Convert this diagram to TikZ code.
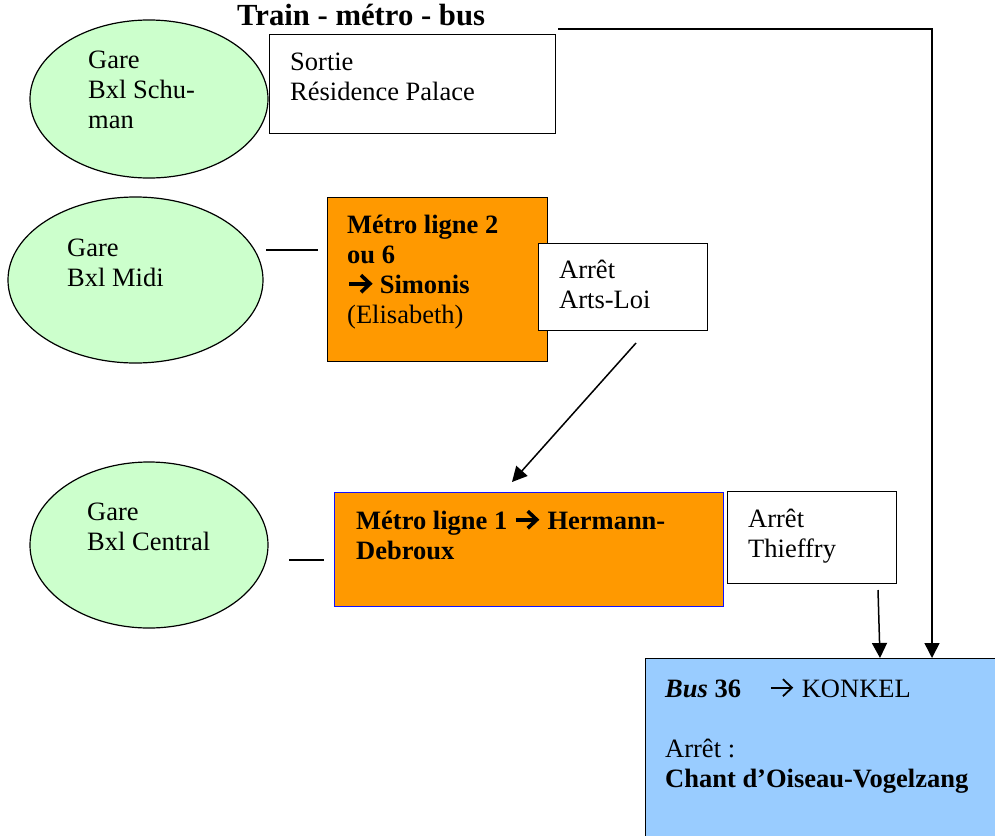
\documentclass[tikz,border=0pt]{standalone}
\usepackage{fontspec}
\setmainfont{Liberation Serif}
\usetikzlibrary{shapes.geometric,arrows.meta}
\definecolor{gareGreen}{HTML}{CCFFCC}
\definecolor{metroOrange}{HTML}{FF9900}
\definecolor{busBlue}{HTML}{99CCFF}
\definecolor{borderBlue}{HTML}{1010FF}
% chevron arrow glyph drawn inline; #1 = stroke width
\newcommand{\chevarrow}[1]{\tikz[x=1pt,y=1pt,baseline=0pt]{\draw[line width=#1, line cap=butt] (0,9.5) -- (20,9.5);\draw[line width=#1, line join=miter, line cap=butt] (12,18) -- (21,9.5) -- (12,1);}}
\begin{document}
\begin{tikzpicture}[x=1pt,y=-1pt,
  gare/.style={ellipse, draw=black, line width=1.2pt, fill=gareGreen, inner sep=0pt},
  plainbox/.style={rectangle, draw=black, line width=1.2pt, fill=white, anchor=north west, inner sep=0pt},
  metrobox/.style={rectangle, draw=black, line width=1.2pt, fill=metroOrange, anchor=north west, inner sep=0pt},
  txt/.style={anchor=north west, inner sep=0pt, align=left, font=\fontsize{26.5}{30}\selectfont},
  conn/.style={line width=1.5pt, draw=black},
  arr/.style={conn, -{Triangle[length=15pt,width=15pt]}}
]
\useasboundingbox (0,0) rectangle (995,835);

% title
\node[anchor=base west, inner sep=0pt, font=\fontsize{30.7}{34}\selectfont\bfseries] (title) at (237,25) {Train - métro - bus};

% row 1
\node[gare, minimum width=238pt, minimum height=158pt] (schuman) at (149,99) {};
\node[txt] (schumantxt) at (88,47) {\strut Gare\\Bxl Schu-\\man};
\node[plainbox, minimum width=286pt, minimum height=99pt] (sortie) at (269,34) {};
\node[txt] (sortietxt) at (290,49) {\strut Sortie\\Résidence Palace};

% row 2
\node[gare, minimum width=255pt, minimum height=166pt] (midi) at (135.5,280) {};
\node[txt] (miditxt) at (67,235) {\strut Gare\\Bxl Midi};
\node[metrobox, minimum width=220pt, minimum height=164pt] (metro2) at (327,197) {};
\node[txt] (metro2txt) at (347,212) {\strut\textbf{Métro ligne 2}\\\textbf{ou 6}\\\chevarrow{3.6pt}\hspace{8pt}\textbf{Simonis}\\(Elisabeth)};
\node[plainbox, minimum width=169pt, minimum height=87pt] (artsloi) at (538,243) {};
\node[txt] (artsloitxt) at (559,257) {\strut Arrêt\\Arts-Loi};

% row 3
\node[gare, minimum width=238pt, minimum height=166pt] (central) at (149,545) {};
\node[txt] (centraltxt) at (87,499) {\strut Gare\\Bxl Central};
\node[metrobox, draw=borderBlue, minimum width=389pt, minimum height=114pt] (metro1) at (334,492) {};
\node[txt] (metro1txt) at (356,508) {\strut\textbf{Métro ligne 1} \chevarrow{3.6pt}\hspace{9pt}\textbf{Hermann-}\\\textbf{Debroux}};
\node[plainbox, minimum width=169pt, minimum height=92pt] (thieffry) at (727,491) {};
\node[txt] (thieffrytxt) at (748,506) {\strut Arrêt\\Thieffry};

% bus
\node[rectangle, draw=black, line width=1.2pt, fill=busBlue, anchor=north west, inner sep=0pt, minimum width=360pt, minimum height=190pt] (bus) at (645,658) {};
\node[txt] (bustxt) at (665,676) {\strut\textbf{\textit{Bus} 36}\hspace{29pt}\chevarrow{1.8pt}\hspace{9pt}KONKEL\\[30pt]Arrêt :\\\textbf{Chant d’Oiseau-Vogelzang}};

% connectors
\coordinate (sortieout) at (558,29);
\coordinate (busin1) at (932,658);
\draw[arr] (sortieout) -| (busin1);

\coordinate (midiA) at (266,250);
\coordinate (midiB) at (318,250);
\draw[conn] (midiA) -- (midiB);

\coordinate (centralA) at (289,560);
\coordinate (centralB) at (324,560);
\draw[conn] (centralA) -- (centralB);

\coordinate (artsout) at (636,343);
\coordinate (metro1in) at (512,482);
\draw[arr] (artsout) -- (metro1in);

\coordinate (thieffryout) at (878,590);
\coordinate (busin2) at (880,658);
\draw[arr] (thieffryout) -- (busin2);
\end{tikzpicture}
\end{document}
